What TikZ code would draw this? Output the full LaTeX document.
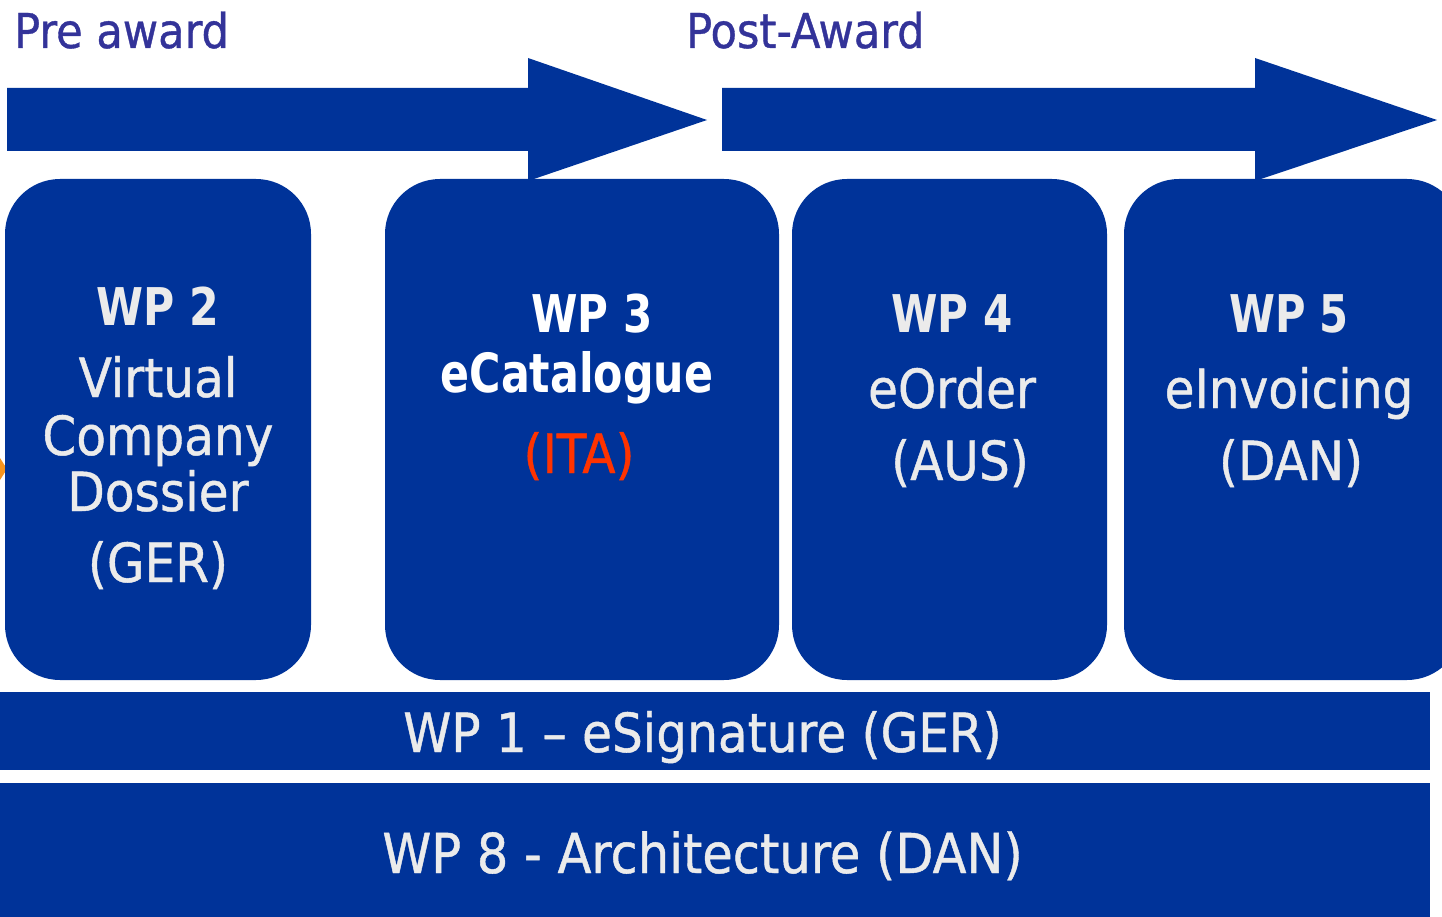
\documentclass[tikz,border=0pt]{standalone}
\usepackage{fontspec}
\usepackage{graphicx}
\IfFontExistsTF{DejaVu Sans Condensed}{%
  \setmainfont{DejaVu Sans Condensed}%
  \newfontfamily\medfont{DejaVu Sans Condensed}[FakeBold=0.8]%
}{%
  \setmainfont{DejaVu Sans}[FakeStretch=0.88]%
  \newfontfamily\medfont{DejaVu Sans}[FakeStretch=0.88,FakeBold=0.8]%
}
\definecolor{wpblue}{HTML}{003399}
\definecolor{hdblue}{HTML}{333399}
\definecolor{wtxt}{HTML}{EBEBEB}
\definecolor{itared}{HTML}{FF3300}
\definecolor{accorange}{HTML}{F7941D}
\newcommand{\hsq}[2]{\scalebox{#1}[1]{#2}}
\tikzset{
  wpbox/.style={fill=wpblue, draw=none, rounded corners=55pt, inner sep=0pt},
  wpbar/.style={fill=wpblue, draw=none, inner sep=0pt},
  lbl/.style={anchor=base, inner sep=0pt, text=wtxt, font=\medfont\fontsize{54}{54}\selectfont},
  lblb/.style={anchor=base, inner sep=0pt, text=wtxt, font=\fontsize{52}{52}\selectfont\bfseries},
  hdr/.style={anchor=base west, inner sep=0pt, text=hdblue, font=\medfont\fontsize{48}{48}\selectfont},
  bigarrow/.style={fill=wpblue, draw=none}
}
\begin{document}
\begin{tikzpicture}[x=1pt, y=-1pt]
\useasboundingbox (0,0) rectangle (1442,917);
\clip (0,0) rectangle (1442,917);
% headers
\node[hdr] (pre) at (14,48) {Pre award};
\node[hdr] (post) at (686,48) {Post-Award};
% arrows
\fill[bigarrow] (7,88) -- (528,88) -- (528,58) -- (707,120) -- (528,181) -- (528,151) -- (7,151) -- cycle;
\fill[bigarrow] (722,88) -- (1255,88) -- (1255,58) -- (1437,120) -- (1255,181) -- (1255,151) -- (722,151) -- cycle;
% orange tip at left
\fill[accorange] (0,458) -- (7,469) -- (0,480) -- cycle;
% boxes
\node[wpbox, minimum width=306pt, minimum height=501pt] (b2) at (158,429.5) {};
\node[wpbox, minimum width=394pt, minimum height=501pt] (b3) at (582,429.5) {};
\node[wpbox, minimum width=315pt, minimum height=501pt] (b4) at (949.5,429.5) {};
\node[wpbox, minimum width=338pt, minimum height=501pt] (b5) at (1293,429.5) {};
% bars
\node[wpbar, minimum width=1430pt, minimum height=78pt] (bar1) at (715,731) {};
\node[wpbar, minimum width=1430pt, minimum height=137pt] (bar8) at (715,851.5) {};
% box 1 text
\node[lblb] (t2a) at (158,325) {\hsq{0.91}{WP 2}};
\node[lbl] (t2b) at (158,397) {Virtual};
\node[lbl] (t2c) at (158,455) {Company};
\node[lbl] (t2d) at (158,511) {Dossier};
\node[lbl] (t2e) at (158,582) {(GER)};
% box 2 text
\node[lblb, text=white] (t3a) at (592,332) {\hsq{0.9}{WP 3}};
\node[lblb, text=white, font=\fontsize{54}{54}\selectfont\bfseries] (t3b) at (577,392) {\hsq{0.88}{eCatalogue}};
\node[lbl, text=itared] (t3c) at (579,473) {(ITA)};
% box 3 text
\node[lblb] (t4a) at (952,332) {\hsq{0.9}{WP 4}};
\node[lbl] (t4b) at (952,408) {eOrder};
\node[lbl] (t4c) at (960,480) {(AUS)};
% box 4 text
\node[lblb] (t5a) at (1289,332) {\hsq{0.89}{WP 5}};
\node[lbl] (t5b) at (1289,408) {eInvoicing};
\node[lbl] (t5c) at (1291,480) {(DAN)};
% bar texts
\node[lbl] (t1) at (702.5,752) {WP 1 – eSignature (GER)};
\node[lbl, font=\medfont\fontsize{55}{55}\selectfont] (t8) at (702.5,873) {WP 8 - Architecture (DAN)};
\end{tikzpicture}
\end{document}
